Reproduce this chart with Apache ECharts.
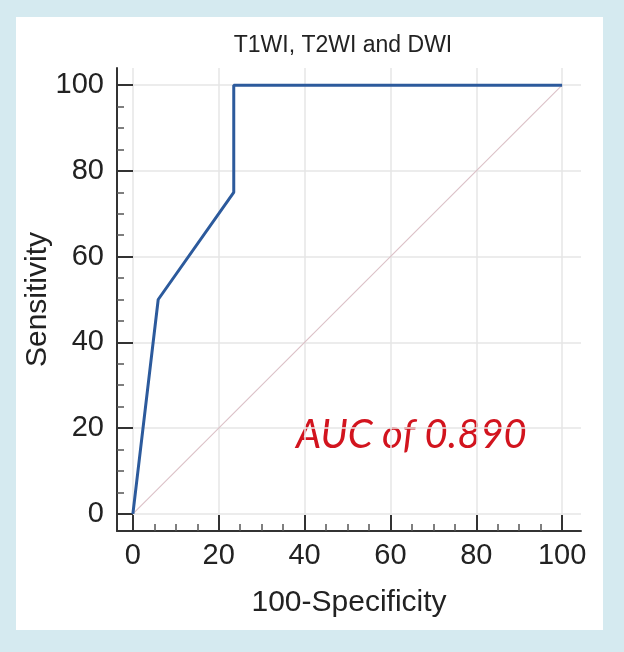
<!DOCTYPE html>
<html>
<head>
<meta charset="utf-8">
<script src="https://cdn.jsdelivr.net/npm/echarts@6/dist/echarts.min.js"></script>
<style>
  html, body { margin: 0; padding: 0; background: #d5eaf0; }
  #panel { position: absolute; left: 16px; top: 17px; width: 587px; height: 613px; background: #fff; }
  #chart { position: absolute; left: 0; top: 0; width: 624px; height: 652px; }
</style>
</head>
<body>
<div id="panel"></div>
<div id="chart"></div>
<script>
// ROC curve points (100-Specificity, Sensitivity)
var rocX = [0, 5.9, 23.5, 23.5, 100]
var rocY = [0, 50, 75, 100, 100]
var refLine = [[0, 0], [100, 100]]
var majorTicks = [0, 20, 40, 60, 80, 100]
var minorTicks = [5, 10, 15, 25, 30, 35, 45, 50, 55, 65, 70, 75, 85, 90, 95]

var myChart = echarts.init(document.querySelector('#chart'))

var axisColor = '#333'

function makeAxis(dim, isMinor) {
  var ax = {
    type: 'value',
    position: dim === 'x' ? 'bottom' : 'left',
    min: dim === 'x' ? -3.7 : -4,
    max: dim === 'x' ? 104.4 : 104,
    axisLine: { show: !isMinor, onZero: false, lineStyle: { color: axisColor, width: 2 } },
    axisTick: {
      show: true,
      inside: true,
      length: isMinor ? 7 : 16,
      customValues: isMinor ? minorTicks : majorTicks,
      lineStyle: { color: isMinor ? '#555' : axisColor, width: isMinor ? 1.5 : 2 }
    },
    axisLabel: {
      show: !isMinor,
      customValues: majorTicks,
      margin: dim === 'x' ? 10 : 13,
      fontFamily: 'Liberation Sans',
      fontSize: 29,
      color: '#222'
    },
    splitLine: { show: !isMinor, lineStyle: { color: '#e6e6e6', width: 1.5 } }
  }
  if (!isMinor) {
    ax.name = dim === 'x' ? '100-Specificity' : 'Sensitivity'
    ax.nameLocation = 'middle'
    ax.nameGap = dim === 'x' ? 57 : 64
    ax.nameMoveOverlap = false
    ax.nameTextStyle = { fontFamily: 'Liberation Sans', fontSize: 30, color: '#222' }
  }
  return ax
}

var option = {
  animation: false,
  title: {
    text: 'T1WI, T2WI and DWI',
    left: 338,
    top: 29,
    textAlign: 'center',
    textStyle: { fontFamily: 'Liberation Sans', fontSize: 23, fontWeight: 'normal', color: '#222' }
  },
  grid: { left: 117, right: 43, top: 68, bottom: 121 },
  xAxis: [makeAxis('x', false), makeAxis('x', true)],
  yAxis: [makeAxis('y', false), makeAxis('y', true)],
  graphic: [{
    type: 'text',
    left: 296,
    top: 415,
    style: {
      text: 'AUC of 0.890',
      font: 'italic 40px Lato',
      fill: '#d2141e'
    }
  }],
  series: [
    {
      type: 'line',
      data: refLine,
      showSymbol: false,
      lineStyle: { color: '#dcc2c8', width: 1.2 },
      z: 1
    },
    {
      type: 'line',
      data: rocX.map(function (x, i) { return [x, rocY[i]] }),
      showSymbol: false,
      lineStyle: { color: '#2c5a9c', width: 3 },
      z: 3
    }
  ]
}
myChart.setOption(option)
</script>
</body>
</html>
